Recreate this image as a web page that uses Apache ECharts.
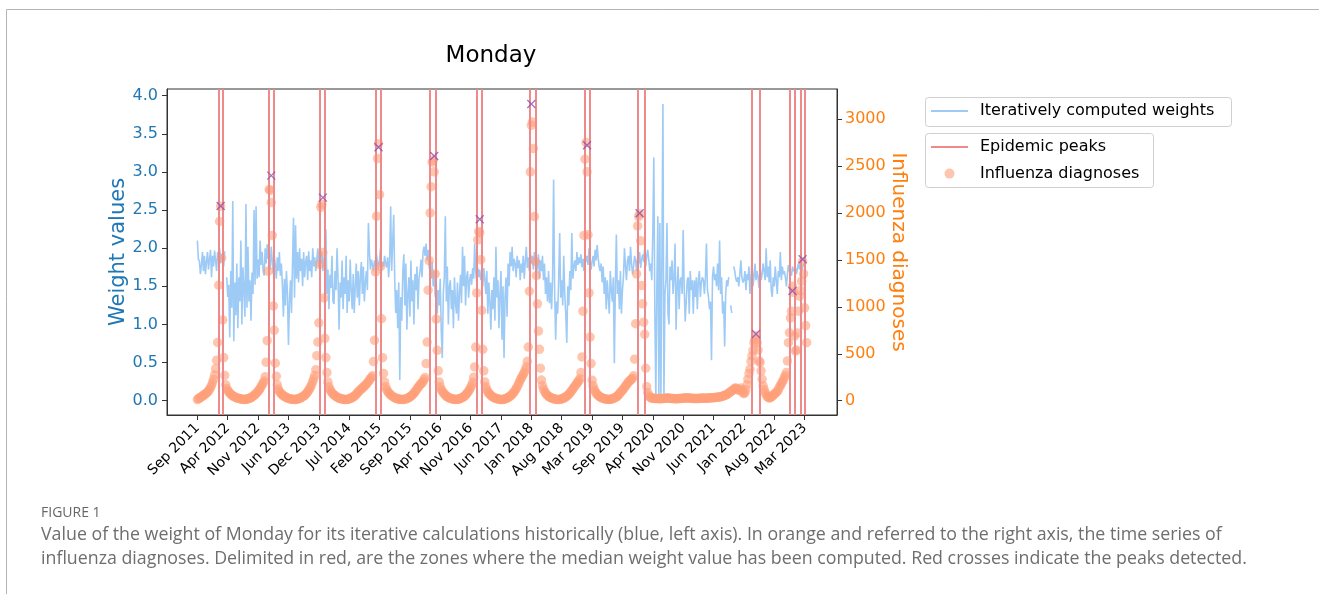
<!DOCTYPE html>
<html><head><meta charset="utf-8">
<script src="https://cdn.jsdelivr.net/npm/echarts@6/dist/echarts.min.js"></script>
<style>html,body{margin:0;padding:0;background:#fff}#c{width:1319px;height:594px}</style>
</head><body><div id="c"></div>
<script>
// Weekly series (index 0 = first Monday, Sep 2011), one value per week
const xTickValues = [0,30,60,90,120,150,180,210,240,270,300,330,360,390,420,450,480,510,540,570,600];
const xTickLabels = ['Sep 2011','Apr 2012','Nov 2012','Jun 2013','Dec 2013','Jul 2014','Feb 2015','Sep 2015','Apr 2016','Nov 2016','Jun 2017','Jan 2018','Aug 2018','Mar 2019','Sep 2019','Apr 2020','Nov 2020','Jun 2021','Jan 2022','Aug 2022','Mar 2023'];
const yLeftTicks = [0,0.5,1,1.5,2,2.5,3,3.5,4];
const yRightTicks = [0,500,1000,1500,2000,2500,3000];

const weights = [
2.10,1.86,1.83,1.66,1.78,1.95,1.70,1.90,1.66,1.82,
1.95,1.72,1.86,1.98,1.62,1.90,1.76,1.97,1.84,1.70,
1.95,1.88,2.00,1.80,1.92,1.86,1.76,1.96,null,1.62,
1.36,1.52,0.83,1.70,1.22,2.62,0.78,1.55,1.12,1.80,
0.95,1.62,1.30,2.10,1.00,1.75,1.45,1.10,2.58,1.22,
2.02,1.30,1.58,1.05,1.68,1.40,2.50,1.52,2.55,1.60,
1.85,1.62,2.10,1.78,1.95,1.70,1.64,2.00,1.80,2.05,
1.86,1.92,1.72,2.02,1.84,1.66,1.90,1.78,1.60,1.88,
1.70,1.95,1.64,1.80,1.52,1.10,1.60,1.25,1.70,1.42,
0.73,1.30,1.58,1.15,1.78,2.40,1.35,2.30,1.60,1.95,
1.55,2.00,1.70,1.86,1.50,1.95,1.62,1.82,1.90,1.58,
1.96,1.70,1.84,1.62,2.00,1.76,1.88,1.70,1.85,2.00,
1.75,1.90,1.80,1.96,1.70,1.88,1.78,2.25,1.40,1.72,
1.20,1.65,1.48,1.90,1.30,1.27,1.70,1.45,2.00,1.60,
0.93,1.55,1.35,1.84,1.20,1.62,1.40,1.90,1.15,1.58,
1.30,1.85,1.45,1.20,1.66,1.15,1.50,1.80,1.35,1.70,
1.25,1.62,1.82,1.40,1.76,1.30,1.55,1.70,1.45,2.33,
1.95,1.72,1.85,1.78,1.70,1.84,1.76,1.92,1.80,1.74,
1.86,2.00,1.70,1.82,1.76,1.90,1.80,1.75,1.88,1.62,
1.85,2.55,1.70,2.10,2.44,1.60,1.15,1.45,0.95,1.55,
0.27,1.36,1.05,1.70,1.92,1.25,1.80,0.93,1.40,1.62,
1.10,1.84,1.30,1.58,1.00,1.66,1.45,1.76,1.20,1.60,
1.70,1.85,1.62,1.95,2.02,1.90,2.06,1.84,1.98,1.76,
1.76,1.60,1.82,1.50,1.70,1.36,1.55,1.14,1.45,1.25,
1.60,0.90,0.56,1.40,1.62,2.42,1.30,1.76,1.00,1.50,
1.58,1.20,1.45,0.95,1.62,1.30,1.14,1.55,1.05,1.40,
1.65,1.28,2.02,1.50,1.90,1.25,1.62,1.70,1.35,1.58,
1.66,1.52,1.74,1.60,2.06,1.70,1.56,1.75,1.62,1.72,
1.58,1.68,1.50,1.74,1.60,1.40,1.70,1.14,1.55,1.30,
0.93,1.45,1.20,1.62,1.05,2.02,1.35,1.58,0.95,1.40,
1.70,0.80,1.50,0.56,1.36,1.62,1.10,1.80,1.50,1.95,
1.76,2.02,1.70,1.86,1.80,1.62,1.90,1.74,1.84,1.58,
1.80,1.68,1.90,1.60,1.82,2.02,1.74,1.88,1.70,1.95,
1.80,1.90,1.72,1.95,1.84,1.66,1.76,1.92,1.60,1.84,
1.70,1.90,1.58,1.80,1.40,1.62,1.30,1.70,1.28,1.55,
1.20,1.62,2.90,1.45,0.80,1.30,1.14,1.60,2.20,1.35,
1.58,1.25,1.90,1.40,1.14,0.76,1.50,1.25,1.70,1.45,
2.20,1.60,1.75,1.84,1.70,1.95,1.78,1.88,1.80,1.92,
1.75,1.86,1.70,1.95,1.82,1.90,1.78,2.00,1.85,1.72,
1.82,1.90,1.76,1.98,1.84,2.04,1.88,1.76,1.70,1.80,
1.55,1.76,1.40,1.62,1.20,1.58,1.36,1.14,1.70,1.45,
1.30,1.62,0.49,1.50,2.18,1.40,1.58,1.20,1.70,1.14,
1.45,1.62,2.00,1.76,1.58,1.84,1.90,1.70,2.02,1.80,
1.66,1.76,1.90,1.84,1.70,1.88,1.80,1.95,1.74,1.86,
1.92,1.82,2.00,1.76,1.90,1.98,1.85,1.70,1.80,1.58,
2.20,3.19,1.20,0.05,1.50,2.42,0.04,2.33,0.03,1.90,
3.89,0.03,1.40,1.58,2.33,1.14,1.00,1.76,1.58,1.84,
1.40,1.62,2.06,0.93,1.50,1.76,1.20,1.58,1.62,1.40,
2.24,1.50,1.04,1.30,1.58,1.62,1.14,1.70,1.45,1.58,
1.14,1.58,1.36,1.62,1.20,1.58,1.70,1.36,1.55,1.62,
1.58,1.40,1.62,2.06,1.45,1.36,1.20,1.30,0.53,1.62,
1.76,1.58,1.66,1.50,1.80,1.45,2.10,1.40,1.62,1.14,
1.30,0.71,1.40,1.58,1.50,1.62,null,1.25,1.15,null,
1.76,1.70,1.60,1.56,1.62,1.50,1.66,1.84,1.62,1.55,
1.58,1.70,1.45,1.66,1.58,1.76,1.40,1.62,1.84,1.50,
1.62,1.80,1.58,1.70,1.62,1.48,1.76,1.58,1.66,1.80,
1.70,1.58,2.00,1.62,1.76,1.55,1.84,1.45,1.36,1.62,
1.50,1.76,1.58,1.40,1.70,1.62,1.95,1.58,1.76,1.66,
1.70,1.62,1.50,1.66,1.78,1.70,1.72,1.64,1.76,1.70,
1.68,1.74,1.66,1.75,1.80,1.72,1.78,1.70,1.74,1.80,
null,null,null
];

const diagnoses = [
12,20,28,35,42,50,58,66,72,80,
92,105,120,140,165,195,230,275,340,430,
620,1230,1910,2070,1520,860,460,270,170,130,
110,95,80,70,60,52,45,40,35,30,
27,24,21,19,17,15,14,14,15,17,
20,24,28,33,40,48,56,65,75,88,
100,115,130,150,170,190,210,255,410,640,
1380,2250,2240,2110,1760,1010,750,400,260,170,
125,100,85,72,62,54,46,40,34,29,
25,22,19,17,15,14,13,14,16,18,
21,25,30,36,43,50,58,68,80,95,
112,130,150,175,205,235,270,330,480,625,
830,1450,2060,2090,1580,1095,665,460,300,200,
150,120,100,85,72,62,53,45,39,33,
28,24,21,18,16,14,13,13,14,16,
19,23,28,34,41,49,58,68,80,94,
105,115,125,135,145,155,165,178,190,205,
220,235,250,265,417,643,1371,1965,2579,2738,
2194,1431,873,459,290,200,150,120,100,85,
72,62,53,45,38,32,27,23,20,17,
15,14,13,13,14,16,19,23,28,34,
41,49,58,68,80,94,110,125,140,155,
170,180,190,205,225,247,396,625,1177,1491,
2000,2279,2540,2560,2438,1350,870,537,318,200,
150,120,100,85,72,60,50,42,36,30,
26,22,19,17,15,14,14,15,17,20,
24,29,35,42,50,60,72,86,102,120,
140,165,195,250,360,572,1148,1714,1802,1790,
1502,961,548,318,200,150,118,95,80,67,
56,47,40,34,29,25,21,18,16,14,
13,13,14,16,19,23,28,34,41,49,
58,68,80,94,110,128,148,170,195,220,
240,260,280,300,330,360,420,572,1166,2438,
2933,2968,2686,1961,1484,1332,1032,742,548,346,
220,160,125,100,82,68,56,47,40,34,
29,25,21,18,16,14,13,13,14,16,
19,23,28,34,41,49,58,68,80,94,
110,125,140,155,170,185,200,215,235,300,
466,954,1760,2573,2749,2438,1767,1148,678,396,
219,160,125,100,82,68,56,47,40,34,
29,25,22,19,17,15,14,14,15,17,
20,24,29,35,42,50,60,72,86,102,
110,125,140,155,170,185,200,210,220,230,
240,265,442,820,1350,1862,1961,1990,1703,1226,
1032,837,707,346,150,88,55,40,32,28,
26,25,24,24,23,23,22,22,22,23,
24,25,26,27,28,28,27,26,25,24,
23,22,22,21,21,22,23,24,25,26,
27,28,29,30,30,29,28,27,26,25,
25,24,24,23,23,24,25,26,27,28,
27,26,26,27,28,28,29,30,31,32,
33,34,35,36,37,38,40,42,45,48,
52,56,60,66,72,80,88,96,104,112,
122,132,135,128,118,110,120,135,110,85,
75,85,120,170,230,290,336,420,477,537,
618,650,690,618,540,424,406,318,230,159,
120,90,65,45,35,30,32,38,48,60,
70,78,88,100,115,141,160,180,200,220,
245,270,300,424,618,724,883,954,1219,1155,
689,530,540,720,954,1113,1173,1272,1484,1350,
989,800,618
];

// Epidemic zone limits (week index) and detected peaks
const zoneBounds = [20.7,25.1,70.8,75.5,120.9,126.2,175.9,180.8,229.9,235.8,276,281,328,333.9,383,387.9,435,441.6,548,555.9,585.5,590.4,595.7,600.3];
const peakWeeks = [23,73,124,179,234,279,330,385,437,552,588,598];
const peakValues = [2074,2397,2163,2699,2607,1932,3161,2721,1996,711,1169,1506];

const FONT = '"DejaVu Sans", sans-serif';
const chart = echarts.init(document.getElementById('c'));

const weightData = weights.map((v, i) => [i, v === null ? '-' : v]);
const diagData = diagnoses.map((v, i) => [i, v]);
const peakData = peakWeeks.map((w, i) => [w, peakValues[i]]);

const hiddenSymbol = { color: 'rgba(0,0,0,0)', borderColor: 'rgba(0,0,0,0)', borderWidth: 0, opacity: 0 };
const legendText = { fontSize: 16, color: '#000', lineHeight: 20, fontFamily: FONT, padding: [0, 0, 0, 7] };

const option = {
  animation: false,
  backgroundColor: '#ffffff',
  textStyle: { fontFamily: FONT },
  grid: { left: 167, right: 482, top: 89, bottom: 179, show: true, borderColor: '#333', borderWidth: 1, backgroundColor: 'transparent' },
  xAxis: {
    type: 'value', min: -30, max: 632,
    axisLine: { show: true, onZero: false, lineStyle: { color: '#333' } },
    splitLine: { show: false },
    axisTick: { show: true, customValues: xTickValues, length: 5, lineStyle: { color: '#333' } },
    axisLabel: { customValues: xTickValues, rotate: 45, fontSize: 14, color: '#000', margin: 11, fontFamily: FONT,
      formatter: v => xTickLabels[Math.round(v / 30)] }
  },
  yAxis: [
    { type: 'value', min: -0.1875, max: 4.088, position: 'left',
      axisLine: { show: true, onZero: false, lineStyle: { color: '#333' } },
      splitLine: { show: false },
      axisTick: { show: true, customValues: yLeftTicks, length: 5, lineStyle: { color: '#333' } },
      axisLabel: { customValues: yLeftTicks, color: '#1f77b4', fontSize: 16, margin: 9, fontFamily: FONT, formatter: v => v.toFixed(1) },
      name: 'Weight values', nameLocation: 'middle', nameGap: 38, nameRotate: 90, nameMoveOverlap: false,
      nameTextStyle: { color: '#1f77b4', fontSize: 21, fontFamily: FONT } },
    { type: 'value', min: -152, max: 3320, position: 'right',
      axisLine: { show: true, onZero: false, lineStyle: { color: '#333' } },
      splitLine: { show: false },
      axisTick: { show: true, customValues: yRightTicks, length: 5, lineStyle: { color: '#333' } },
      axisLabel: { customValues: yRightTicks, color: '#ff7f0e', fontSize: 16, margin: 8, fontFamily: FONT, formatter: v => String(Math.round(v)) },
      name: 'Influenza diagnoses', nameLocation: 'middle', nameGap: 51, nameRotate: -90, nameMoveOverlap: false,
      nameTextStyle: { color: '#ff7f0e', fontSize: 20, fontFamily: FONT } }
  ],
  legend: [
    { data: [{ name: 'Iteratively computed weights', itemStyle: hiddenSymbol }], left: 930, top: 101, padding: 0, itemWidth: 37, itemHeight: 10,
      selectedMode: false, textStyle: legendText },
    { data: [{ name: 'Epidemic peaks', itemStyle: hiddenSymbol }, 'Influenza diagnoses'], orient: 'vertical', left: 930, top: 137, padding: 0, itemGap: 6.6,
      itemWidth: 37, itemHeight: 10, selectedMode: false, textStyle: legendText }
  ],
  graphic: [
    { type: 'polyline', silent: true, shape: { points: [[1319, 9.5], [6.5, 9.5], [6.5, 594]] }, style: { stroke: '#b4b4b4', lineWidth: 1, fill: null } },
    { type: 'rect', silent: true, shape: { x: 925.5, y: 97.5, width: 306, height: 29, r: 3 }, style: { fill: 'rgba(255,255,255,0.8)', stroke: '#d0d0d0', lineWidth: 1 }, z: -1 },
    { type: 'rect', silent: true, shape: { x: 925.5, y: 133.5, width: 228, height: 54, r: 3 }, style: { fill: 'rgba(255,255,255,0.8)', stroke: '#d0d0d0', lineWidth: 1 }, z: -1 },
    { type: 'text', silent: true, x: 491, y: 56, style: { text: 'Monday', font: '23px "DejaVu Sans"', fill: '#000', align: 'center', verticalAlign: 'middle', textAlign: 'center', textVerticalAlign: 'middle' } },
    { type: 'text', silent: true, x: 41, y: 513, style: { text: 'FIGURE 1', font: '14px "Open Sans"', fill: '#666', verticalAlign: 'middle', textVerticalAlign: 'middle' } },
    { type: 'text', silent: true, x: 41, y: 535, style: { text: 'Value of the weight of Monday for its iterative calculations historically (blue, left axis). In orange and referred to the right axis, the time series of', font: '17.8px "Open Sans"', fill: '#6e6e6e', verticalAlign: 'middle', textVerticalAlign: 'middle' } },
    { type: 'text', silent: true, x: 41, y: 559, style: { text: 'influenza diagnoses. Delimited in red, are the zones where the median weight value has been computed. Red crosses indicate the peaks detected.', font: '17.8px "Open Sans"', fill: '#6e6e6e', verticalAlign: 'middle', textVerticalAlign: 'middle' } }
  ],
  series: [
    { name: 'Iteratively computed weights', type: 'line', yAxisIndex: 0, data: weightData, symbol: 'none', showSymbol: false,
      connectNulls: false, color: '#9ecbf6', lineStyle: { color: '#9ecbf6', width: 1.6 }, z: 2 },
    { name: 'Influenza diagnoses', type: 'scatter', yAxisIndex: 1, data: diagData, symbol: 'circle', symbolSize: 9.5,
      color: '#ffa07a', itemStyle: { color: '#ffa07a', opacity: 0.6 }, z: 3 },
    { name: 'Epidemic peaks', type: 'line', yAxisIndex: 1, data: [], symbol: 'none', color: '#ef8a8a',
      lineStyle: { color: '#ef8a8a', width: 2 }, z: 4,
      markLine: { silent: true, symbol: 'none', label: { show: false }, animation: false,
        lineStyle: { color: '#ef8a8a', width: 2, type: 'solid' },
        data: zoneBounds.map(x => ({ xAxis: x })) } },
    { name: 'Detected peaks', type: 'scatter', yAxisIndex: 1, data: peakData, symbol: 'path://M0,0L10,10M10,0L0,10', symbolSize: 8,
      itemStyle: { color: 'none', borderColor: '#8a4fb3', borderWidth: 1.3 }, z: 5 }
  ]
};
chart.setOption(option);
</script>
</body></html>
